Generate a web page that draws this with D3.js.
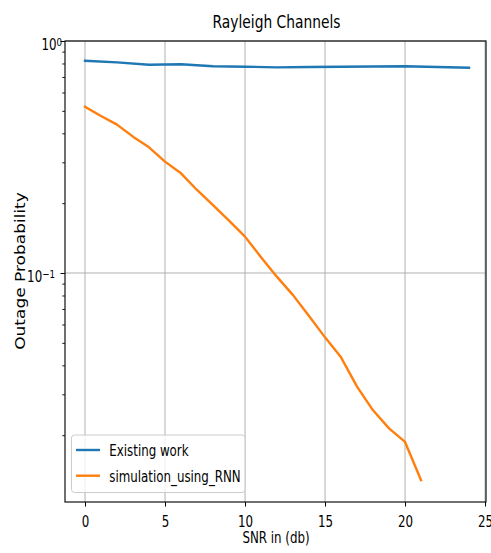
<!DOCTYPE html>
<html>
<head>
<meta charset="utf-8">
<script src="https://cdn.jsdelivr.net/npm/d3@7"></script>
<style>
  html, body { margin: 0; padding: 0; background: #fff; }
  svg { display: block; }
  text { font-family: "DejaVu Sans", sans-serif; fill: #000; }
</style>
</head>
<body>
<div id="chart"></div>
<script>
// ---- data ----
const titleText = "Rayleigh Channels";
const xLabelText = "SNR in (db)";
const yLabelText = "Outage Probability";
const seriesNames = ["Existing work", "simulation_using_RNN"];

const snrExisting = [0, 2, 4, 6, 8, 10, 12, 14, 16, 18, 20, 22, 24];
const existingWork = [0.822, 0.809, 0.790, 0.794, 0.778, 0.775, 0.770, 0.773, 0.775, 0.776, 0.778, 0.773, 0.767];

const snrRnn = [0, 1, 2, 3, 4, 5, 6, 7, 8, 9, 10, 11, 12, 13, 14, 15, 16, 17, 18, 19, 20, 21];
const rnnSimulation = [0.521, 0.475, 0.436, 0.387, 0.348, 0.302, 0.269, 0.228, 0.196, 0.168, 0.1435, 0.117,
                       0.0962, 0.0803, 0.0653, 0.0528, 0.0433, 0.0324, 0.0256, 0.0214, 0.0187, 0.0128];

const xTicks = [0, 5, 10, 15, 20, 25];
const yMajorTicks = [1, 0.1];
const yMajorExp = ["0", "\u22121"];
const yMinorTicks = [0.02, 0.03, 0.04, 0.05, 0.06, 0.07, 0.08, 0.09, 0.2, 0.3, 0.4, 0.5, 0.6, 0.7, 0.8, 0.9];

// ---- layout ----
const W = 491, H = 553;
const plot = { left: 65, right: 486, top: 41, bottom: 502 };
const SX = 0.79; // horizontal squeeze of text glyphs
const colors = ["#1f77b4", "#ff7f0e"];

const svg = d3.select("#chart").append("svg").attr("width", W).attr("height", H);

const x = d3.scaleLinear().domain([-1.25, 25.06]).range([plot.left, plot.right]);
const y = d3.scaleLog().domain([Math.pow(10, -1.987), 1]).range([plot.bottom, plot.top]);

// grid
const grid = svg.append("g");
grid.selectAll("line.vg").data(xTicks).join("line")
  .attr("x1", d => x(d)).attr("x2", d => x(d))
  .attr("y1", plot.top).attr("y2", plot.bottom)
  .attr("stroke", "#b0b0b0").attr("stroke-width", 1);
grid.selectAll("line.hg").data(yMajorTicks).join("line")
  .attr("x1", plot.left).attr("x2", plot.right)
  .attr("y1", d => y(d)).attr("y2", d => y(d))
  .attr("stroke", "#b0b0b0").attr("stroke-width", 1);

// lines
const line = d3.line().x(d => x(d[0])).y(d => y(d[1]));
const seriesData = [
  d3.zip(snrExisting, existingWork),
  d3.zip(snrRnn, rnnSimulation)
];
svg.append("g").selectAll("path").data(seriesData).join("path")
  .attr("d", line)
  .attr("fill", "none")
  .attr("stroke", (d, i) => colors[i])
  .attr("stroke-width", 2.4)
  .attr("stroke-linejoin", "round")
  .attr("stroke-linecap", "square");

// x axis
const xAxis = svg.append("g").attr("transform", `translate(0,${plot.bottom})`)
  .call(d3.axisBottom(x).tickValues(xTicks).tickSize(4.5).tickPadding(0).tickFormat(d3.format("d")));
xAxis.select(".domain").remove();
xAxis.selectAll(".tick line").attr("stroke", "#000").attr("stroke-width", 1);
xAxis.selectAll(".tick text")
  .attr("y", 25).attr("dy", 0)
  .attr("font-size", 15)
  .attr("font-family", "DejaVu Sans")
  .attr("transform", `scale(${SX},1)`);

// y axis minor
const yMinor = svg.append("g").attr("transform", `translate(${plot.left},0)`)
  .call(d3.axisLeft(y).tickValues(yMinorTicks).tickSize(2.7).tickFormat(""));
yMinor.select(".domain").remove();
yMinor.selectAll(".tick line").attr("stroke", "#000").attr("stroke-width", 0.9);

// y axis major
const yMajor = svg.append("g").attr("transform", `translate(${plot.left},0)`)
  .call(d3.axisLeft(y).tickValues(yMajorTicks).tickSize(4.5).tickFormat(""));
yMajor.select(".domain").remove();
yMajor.selectAll(".tick line").attr("stroke", "#000").attr("stroke-width", 1);
yMajor.selectAll(".tick").each(function (d, i) {
  const endX = i === 0 ? -3 : -10;
  const t = d3.select(this).append("text")
    .attr("text-anchor", "end")
    .attr("font-family", "DejaVu Sans")
    .attr("transform", `translate(${endX},8.5) scale(${SX},1)`)
    .attr("fill", "#000");
  t.append("tspan").attr("font-size", 15).text("10");
  t.append("tspan").attr("font-size", 11).attr("dy", -4).text(yMajorExp[i]);
});

// frame
svg.append("rect")
  .attr("x", plot.left).attr("y", plot.top)
  .attr("width", plot.right - plot.left).attr("height", plot.bottom - plot.top)
  .attr("fill", "none").attr("stroke", "#111").attr("stroke-width", 1.2);

// title
svg.append("text")
  .attr("transform", `translate(${(plot.left + plot.right) / 2 + 1},28) scale(${SX},1)`)
  .attr("text-anchor", "middle").attr("font-size", 17.5)
  .text(titleText);

// x label
svg.append("text")
  .attr("transform", `translate(${(plot.left + plot.right) / 2 + 0.5},543) scale(${SX},1)`)
  .attr("text-anchor", "middle").attr("font-size", 15)
  .text(xLabelText);

// y label
svg.append("text")
  .attr("transform", `translate(24.5,271) rotate(-90) scale(1,0.85)`)
  .attr("text-anchor", "middle").attr("font-size", 17)
  .text(yLabelText);

// legend
const lg = svg.append("g");
lg.append("rect")
  .attr("x", 71.5).attr("y", 435).attr("width", 173.5).attr("height", 57.5)
  .attr("rx", 3).attr("ry", 3)
  .attr("fill", "#fff").attr("fill-opacity", 0.8)
  .attr("stroke", "#cccccc").attr("stroke-width", 1);
const items = lg.selectAll("g.item").data(seriesNames).join("g")
  .attr("transform", (d, i) => `translate(0,${450 + i * 25.7})`);
items.append("line")
  .attr("x1", 76).attr("x2", 100).attr("y1", 0).attr("y2", 0)
  .attr("stroke", (d, i) => colors[i]).attr("stroke-width", 2.4);
items.append("text")
  .attr("transform", `translate(109.3,6) scale(${SX},1)`)
  .attr("font-size", 15)
  .text(d => d);
</script>
</body>
</html>
